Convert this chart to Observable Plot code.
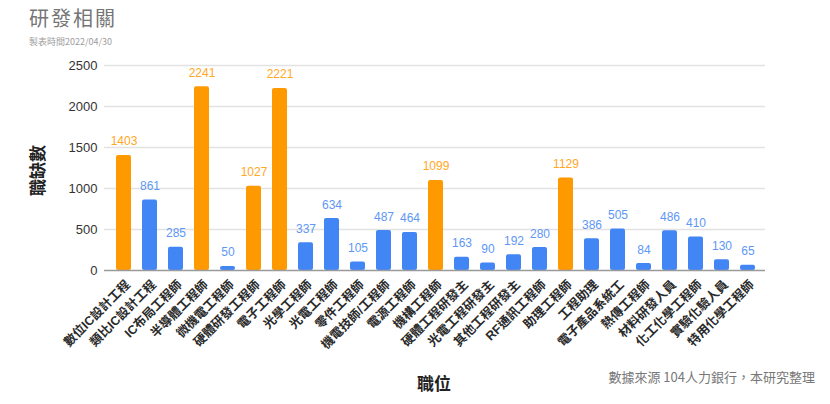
<!DOCTYPE html>
<html><head><meta charset="utf-8">
<script src="https://cdn.jsdelivr.net/npm/d3@7"></script>
<script src="https://cdn.jsdelivr.net/npm/@observablehq/plot@0.6"></script>
<style>
body{margin:0;background:#fff;font-family:"Liberation Sans","Noto Sans CJK TC",sans-serif;}
#wrap{position:relative;width:830px;height:404px;}
.abs{position:absolute;white-space:nowrap;}
</style></head>
<body><div id="wrap">
<div class="abs" style="left:29px;top:3px;font-size:20px;color:#757575;font-family:'Noto Sans CJK TC',sans-serif;letter-spacing:2px;">研發相關</div>
<div class="abs" style="left:29px;top:35px;font-size:9px;color:#9e9e9e;font-family:'Noto Sans CJK TC',sans-serif;">製表時間2022/04/30</div>
<div class="abs" style="left:6px;top:158px;font-size:17px;font-weight:bold;color:#222;transform:rotate(-90deg);transform-origin:center;font-family:'Noto Sans CJK TC',sans-serif;width:60px;text-align:center;">職缺數</div>
<div class="abs" style="left:417px;top:370px;font-size:17px;font-weight:bold;color:#222;font-family:'Noto Sans CJK TC',sans-serif;">職位</div>
<div class="abs" style="right:15px;top:367px;font-size:13px;color:#777;font-family:'Noto Sans CJK TC',sans-serif;">數據來源 104人力銀行，本研究整理</div>
</div>
<script>
const categories = ["數位IC設計工程","類比IC設計工程","IC布局工程師","半導體工程師","微機電工程師","硬體研發工程師","電子工程師","光學工程師","光電工程師","零件工程師","機電技師/工程師","電源工程師","機構工程師","硬體工程研發主","光電工程研發主","其他工程研發主","RF通訊工程師","助理工程師","工程助理","電子產品系統工","熱傳工程師","材料研發人員","化工化學工程師","實驗化驗人員","特用化學工程師"];
const values = [1403,861,285,2241,50,1027,2221,337,634,105,487,464,1099,163,90,192,280,1129,386,505,84,486,410,130,65];
const highlighted = ["數位IC設計工程","半導體工程師","硬體研發工程師","電子工程師","機構工程師","助理工程師"];
const yTicks = [0,500,1000,1500,2000,2500];

const data = categories.map((c,i)=>({cat:c, value:values[i], hi: highlighted.includes(c)}));
const barColor = d => d.hi ? "#ff9900" : "#4285f4";
const labelColor = d => d.hi ? "#ffa726" : "#5e97f6";

const chart = Plot.plot({
  width: 830, height: 404,
  marginLeft: 104, marginRight: 65, marginTop: 65, marginBottom: 134,
  style: {fontFamily: "'Liberation Sans','Noto Sans CJK TC',sans-serif", background: "transparent"},
  x: {domain: categories, range: [109.5, 761.7], paddingInner: 0.42, paddingOuter: 0.21, label: null},
  y: {domain: [0, 2500], label: null},
  marks: [
    Plot.ruleY(yTicks.filter(t=>t>0), {stroke: "#e2e2e2", strokeWidth: 1.3}),
    Plot.barY(data, {x: "cat", y: "value", fill: barColor, rx: 2}),
    Plot.ruleY([0], {stroke: "#9a9a9a", strokeWidth: 1.5}),
    Plot.text(data, {x: "cat", y: "value", text: d => String(d.value), fill: labelColor, dy: -10, lineAnchor: "bottom", fontSize: 12}),
    Plot.axisY({ticks: yTicks, tickSize: 0, tickPadding: 7, fontSize: 13, color: "#333", tickFormat: d => String(d), label: null}),
    Plot.axisX({tickSize: 0, tickRotate: -45, tickPadding: 12, dx: 4, fontSize: 12.5, fontWeight: "bold", color: "#2a2a2a", label: null, style: {fontFamily: "'Noto Sans CJK TC',sans-serif"}})
  ]
});
chart.style.position = "absolute";
chart.style.left = "0px";
chart.style.top = "0px";
document.getElementById("wrap").prepend(chart);
</script>
</body></html>
